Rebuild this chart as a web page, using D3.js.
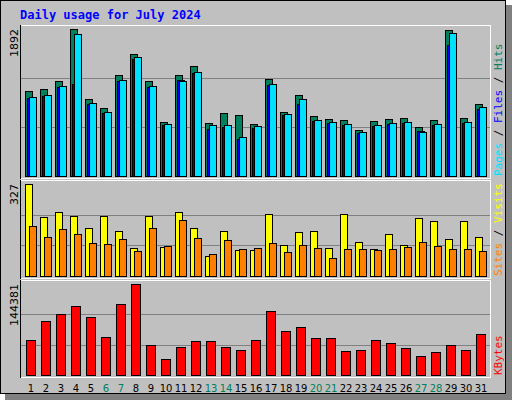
<!DOCTYPE html>
<html><head><meta charset="utf-8"><script src="https://cdn.jsdelivr.net/npm/d3@7"></script>
<style>body{margin:0;background:#fff}svg{display:block}</style></head><body>
<script>
const days = d3.range(1, 32);
const weekends = [6,7,13,14,20,21,27,28];
const hits  = [1094,1120,1223,1892,991,875,1300,1570,1223,695,1300,1416,682,811,785,669,1248,824,1042,772,734,721,592,708,734,746,631,721,1879,746,927];
const files = [1017,1042,1158,1828,940,824,1236,1532,1158,669,1223,1338,656,656,502,644,1184,798,991,721,695,669,566,656,682,695,566,669,1840,695,888];
const pages = [1004,1030,1145,1184,927,811,1223,1506,1145,656,1236,1326,605,631,476,618,1171,785,927,708,682,656,553,644,669,682,579,656,1686,682,862];
const sites = [327,210,228,213,171,213,160,100,213,103,228,171,71,160,92,92,220,110,156,160,100,220,121,96,149,110,206,196,132,196,139];
const visits= [178,139,167,149,117,114,132,89,171,107,199,135,78,128,96,100,117,85,110,100,64,96,96,92,96,103,121,107,96,96,89];
const kbytes= [55862,85901,96968,109616,92225,60605,112778,144381,47957,25823,44795,54281,54281,44795,40052,55862,101711,70091,76415,59024,59024,38471,40052,55862,51119,43214,30566,36890,47957,40052,65348];
const maxHits = 1892, maxSites = 327, maxK = 144381;

const svg = d3.select("body").append("svg").attr("width",512).attr("height",400);
svg.append("rect").attr("x",0).attr("y",0).attr("width",512).attr("height",400).attr("fill","#fff");
svg.append("rect").attr("x",5).attr("y",5).attr("width",507).attr("height",395).attr("fill","#808080");
svg.append("rect").attr("x",0.5).attr("y",0.5).attr("width",505).attr("height",393).attr("fill","#C0C0C0").attr("stroke","#000");

svg.append("text").attr("x",20).attr("y",19).text("Daily usage for July 2024")
  .attr("font-family","DejaVu Sans Mono").attr("font-weight","bold").attr("font-size",12).attr("fill","#0000FF");

const x = d3.scaleLinear().domain([1,31]).range([25,475]);

function panel(y0,y1){
  svg.append("line").attr("x1",20).attr("x2",491).attr("y1",y0+0.5).attr("y2",y0+0.5).attr("stroke","#fff");
  svg.append("line").attr("x1",490.5).attr("x2",490.5).attr("y1",y0).attr("y2",y1).attr("stroke","#fff");
  svg.append("line").attr("x1",20).attr("x2",491).attr("y1",y1+0.5).attr("y2",y1+0.5).attr("stroke","#fff");
  svg.append("line").attr("x1",20.5).attr("x2",20.5).attr("y1",y0).attr("y2",y1+1).attr("stroke","#000");
}
function grid(y, max){
  [max/3, 2*max/3].forEach(v=>{
    svg.append("line").attr("x1",21).attr("x2",490).attr("y1",Math.round(y(v))+0.5).attr("y2",Math.round(y(v))+0.5).attr("stroke","#808080");
  });
}
function ylabel(txt, ytop){
  svg.append("text").attr("transform",`translate(18,${ytop}) rotate(-90)`).attr("text-anchor","end")
   .attr("font-family","DejaVu Sans").attr("font-size",11).attr("fill","#000").text(txt);
}
function rlabel(parts, ybot){
  const t = svg.append("text").attr("transform",`translate(502,${ybot}) rotate(-90)`)
   .attr("font-family","DejaVu Sans Mono").attr("font-size",11);
  parts.forEach(p=>t.append("tspan").attr("fill",p[1]).text(p[0]));
}
function bars(data, y, dx, w, color){
  svg.append("g").selectAll("rect").data(data).join("rect")
   .attr("x",(d,i)=>x(days[i])+dx+0.5).attr("y",d=>Math.round(y(d))+0.5)
   .attr("width",w).attr("height",d=>y(0)-Math.round(y(d)))
   .attr("fill",color).attr("stroke","#000");
}

// Top panel
panel(25,178);
const y1 = d3.scaleLinear().domain([0,maxHits]).range([176,29]);
grid(y1,maxHits);
bars(hits,y1,0,7,"#00805C");
bars(pages,y1,2,7,"#0000FF");
bars(files,y1,4,7,"#00E0FF");
ylabel("1892",29);
rlabel([["Pages","#00E0FF"],[" / ","#000"],["Files","#0000FF"],[" / ","#000"],["Hits","#00805C"]],176);

// Middle
panel(180,278);
const y2 = d3.scaleLinear().domain([0,maxSites]).range([276,184]);
grid(y2,maxSites);
bars(sites,y2,0,7,"#FFFF00");
bars(visits,y2,4,7,"#FF8000");
ylabel("327",184);
rlabel([["Sites","#FF8000"],[" / ","#000"],["Visits","#FFFF00"]],276);

// Bottom
panel(280,377);
const y3 = d3.scaleLinear().domain([0,maxK]).range([375,284]);
grid(y3,maxK);
bars(kbytes,y3,1,9,"#FF0000");
ylabel("144381",284);
rlabel([["KBytes","#FF0000"]],375);

svg.append("g").selectAll("text").data(days).join("text")
  .attr("x",d=>x(d)+6).attr("y",392).attr("text-anchor","middle")
  .attr("font-family","DejaVu Sans").attr("font-size",10)
  .attr("fill",d=>weekends.includes(d)?"#00805C":"#000").text(d=>d);
</script></body></html>
